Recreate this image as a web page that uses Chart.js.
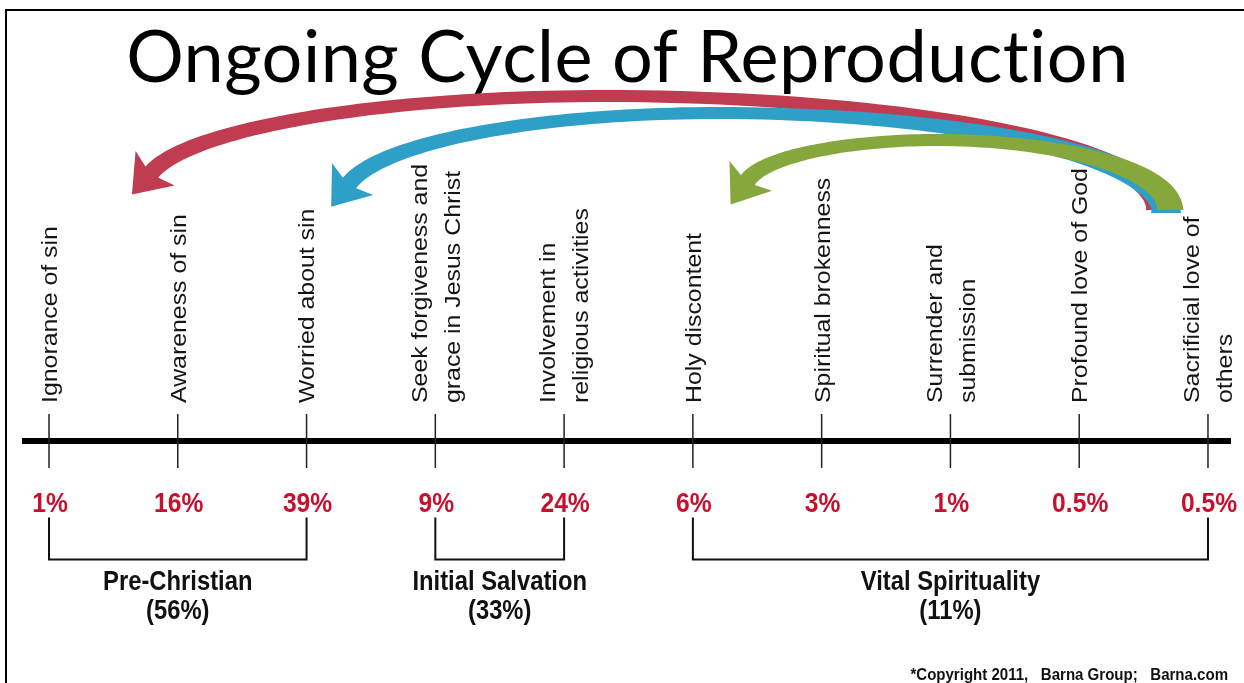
<!DOCTYPE html>
<html>
<head>
<meta charset="utf-8">
<script src="https://cdn.jsdelivr.net/npm/chart.js@4.4.1/dist/chart.umd.min.js"></script>
<style>
  html, body { margin: 0; padding: 0; background: #fff; }
  #wrap { width: 1244px; height: 683px; }
</style>
</head>
<body>
<div id="wrap"><canvas id="cycle-chart"></canvas></div>
<script>
// stages along the line, left to right (each entry = lines of the rotated label)
const stages = [
    ['Ignorance of sin'],
    ['Awareness of sin'],
    ['Worried about sin'],
    ['Seek forgiveness and', 'grace in Jesus Christ'],
    ['Involvement in', 'religious activities'],
    ['Holy discontent'],
    ['Spiritual brokenness'],
    ['Surrender and', 'submission'],
    ['Profound love of God'],
    ['Sacrificial love of', 'others']
];
const shares = ['1%', '16%', '39%', '9%', '24%', '6%', '3%', '1%', '0.5%', '0.5%'];

// groups of stages
const groupNames = ['Pre-Christian', 'Initial Salvation', 'Vital Spirituality'];
const groupShares = ['(56%)', '(33%)', '(11%)'];
const groupFirst = [0, 3, 5];
const groupLast = [2, 4, 9];

// the cycle arrows: from the last stage back to earlier stages
const cycleFrom = 9;
const cycleTo = [1, 2, 5];

const titleText = 'Ongoing Cycle of Reproduction';
const copyrightText = '*Copyright 2011,   Barna Group;   Barna.com';


// layout / style (pixels)
const LABEL_BASE = 38;      // gap between axis line and start of rotated labels
const LABEL_FONT = 22;
const LABEL_STRETCH = 1.13;
const LABEL_LINE = 33;
const BRACKET_TOP = -0.38;
const BRACKET_BOTTOM = -0.59;
const arrowColors = ['#c03c51', '#2e9fc7', '#86a73c'];
const arrowLayout = [
    {tailDx: -50, tailY: 210, peakY: 96, baseDx: -26, baseY: 172, wTail: 24},
    {tailDx: -42, tailY: 213, peakY: 113, baseDx: 43, baseY: 183, wTail: 30},
    {tailDx: -38, tailY: 210, peakY: 140, baseDx: 55, baseY: 180, wTail: 27}
];


// tapered curved arrow: quarter ellipse up from the tail, then down to the head
function drawArrow(ctx, a, color) {
    const thEnd = 170 * Math.PI / 180;
    const rxR = a.tail.x - a.peak.x, ryR = a.tail.y - a.peak.y;
    const rxL = (a.peak.x - a.base.x) / -Math.cos(thEnd);
    const cyL = (a.base.y - Math.sin(thEnd) * a.peak.y) / (1 - Math.sin(thEnd));
    const ryL = cyL - a.peak.y;
    const N = 90;
    const left = [], right = [];
    let last = null;
    for (let i = 0; i <= N; i++) {
        const s = i / N;
        let x, y, tx, ty;
        if (s <= 0.5) {
            const th = (s / 0.5) * Math.PI / 2;
            x = a.peak.x + rxR * Math.cos(th);
            y = a.tail.y - ryR * Math.sin(th);
            tx = -rxR * Math.sin(th); ty = -ryR * Math.cos(th);
        } else {
            const th = Math.PI / 2 + ((s - 0.5) / 0.5) * (thEnd - Math.PI / 2);
            x = a.peak.x + rxL * Math.cos(th);
            y = cyL - ryL * Math.sin(th);
            tx = -rxL * Math.sin(th); ty = -ryL * Math.cos(th);
        }
        const len = Math.hypot(tx, ty);
        tx /= len; ty /= len;
        const w = s < 0.5
            ? a.wPeak + (a.wTail - a.wPeak) * Math.pow(1 - 2 * s, 2)
            : a.wPeak + (a.wHead - a.wPeak) * Math.pow(2 * s - 1, 2);
        const nx = -ty, ny = tx;
        left.push([x + nx * w / 2, y + ny * w / 2]);
        right.push([x - nx * w / 2, y - ny * w / 2]);
        last = {x, y, tx, ty, nx, ny};
    }
    ctx.beginPath();
    ctx.moveTo(left[0][0], left[0][1]);
    left.forEach(p => ctx.lineTo(p[0], p[1]));
    const hw = 26, hl = 30;
    ctx.lineTo(last.x + last.nx * hw - last.tx * 5, last.y + last.ny * hw - last.ty * 5);
    ctx.lineTo(last.x + last.tx * hl, last.y + last.ty * hl);
    ctx.lineTo(last.x - last.nx * hw - last.tx * 5, last.y - last.ny * hw - last.ty * 5);
    for (let i = right.length - 1; i >= 0; i--) {
        ctx.lineTo(right[i][0], right[i][1]);
    }
    ctx.closePath();
    ctx.fillStyle = color;
    ctx.fill();
}

// draw text squeezed horizontally (stand-in for a narrow font)
function narrowText(ctx, text, x, y, squeeze) {
    ctx.save();
    ctx.translate(x, y);
    ctx.scale(squeeze, 1);
    ctx.fillText(text, 0, 0);
    ctx.restore();
}


const cycleDecor = {
    id: 'cycleDecor',
    beforeDraw(chart) {
        const ctx = chart.ctx;
        ctx.save();
        ctx.fillStyle = '#fff';
        ctx.fillRect(0, 0, chart.width, chart.height);
        ctx.strokeStyle = '#000';
        ctx.lineWidth = 2;
        ctx.beginPath();
        ctx.moveTo(6, chart.height);
        ctx.lineTo(6, 10);
        ctx.lineTo(chart.width, 10);
        ctx.stroke();
        ctx.restore();
        // a little spacing for the title (also keeps "ti" from joining)
        ctx.letterSpacing = '0.5px';
    },
    afterDraw(chart) {
        const ctx = chart.ctx;
        ctx.letterSpacing = '0px';
        const xs = chart.scales.x;
        const axisY = chart.scales.y.getPixelForValue(0);
        ctx.save();

        // rotated stage names
        ctx.fillStyle = '#151515';
        ctx.font = LABEL_FONT + 'px "Liberation Sans", Arial, sans-serif';
        ctx.textAlign = 'left';
        ctx.textBaseline = 'alphabetic';
        const capH = 0.716 * LABEL_FONT;
        stages.forEach((lines, i) => {
            const px = xs.getPixelForValue(i);
            lines.forEach((line, k) => {
                const off = (k - (lines.length - 1) / 2) * LABEL_LINE;
                ctx.save();
                ctx.translate(px, axisY - LABEL_BASE);
                ctx.rotate(-Math.PI / 2);
                ctx.scale(LABEL_STRETCH, 1);
                ctx.fillText(line, 0, off + capH / 2);
                ctx.restore();
            });
        });

        // shares under each stage
        ctx.textAlign = 'center';
        ctx.fillStyle = '#c8102e';
        ctx.font = 'bold 28px "Liberation Sans", Arial, sans-serif';
        shares.forEach((s, i) => {
            narrowText(ctx, s, xs.getPixelForValue(i) + 1, axisY + 71, 0.88);
        });

        // group names under the brackets
        ctx.fillStyle = '#111';
        groupNames.forEach((name, g) => {
            const cx = (xs.getPixelForValue(groupFirst[g]) + xs.getPixelForValue(groupLast[g])) / 2;
            narrowText(ctx, name, cx, axisY + 149, 0.85);
            narrowText(ctx, groupShares[g], cx, axisY + 178, 0.85);
        });

        // copyright
        ctx.textAlign = 'right';
        ctx.font = 'bold 16px "Liberation Sans", Arial, sans-serif';
        narrowText(ctx, copyrightText, 1228, 680, 0.94);

        // cycle arrows
        const tailX = xs.getPixelForValue(cycleFrom);
        cycleTo.forEach((to, k) => {
            const L = arrowLayout[k];
            const tail = {x: tailX + L.tailDx, y: L.tailY};
            const base = {x: xs.getPixelForValue(to) + L.baseDx, y: L.baseY};
            const peak = {x: base.x + 0.45 * (tail.x - base.x), y: L.peakY};
            drawArrow(ctx, {tail, base, peak, wTail: L.wTail, wPeak: 12, wHead: 17}, arrowColors[k]);
        });

        ctx.restore();
    }
};


const bracketSets = groupNames.map((name, g) => ({
    label: name,
    data: [
        {x: groupFirst[g], y: BRACKET_TOP},
        {x: groupFirst[g], y: BRACKET_BOTTOM},
        {x: groupLast[g], y: BRACKET_BOTTOM},
        {x: groupLast[g], y: BRACKET_TOP}
    ],
    showLine: true,
    borderColor: '#111',
    borderWidth: 2,
    pointRadius: 0,
    tension: 0
}));

const chart = new Chart(document.getElementById('cycle-chart'), {
    type: 'scatter',
    data: {
        datasets: [{
            label: 'stages',
            data: stages.map((s, i) => ({x: i, y: 0})),
            pointStyle: 'line',
            rotation: 90,
            radius: 27,
            borderColor: '#222',
            borderWidth: 1.5
        }].concat(bracketSets)
    },
    options: {
        responsive: true,
        maintainAspectRatio: false,
        animation: false,
        layout: {autoPadding: false, padding: {left: 25, right: 14, top: 0, bottom: 41}},
        plugins: {
            legend: {display: false},
            tooltip: {enabled: false},
            title: {
                display: true,
                text: titleText,
                color: '#000',
                font: {family: 'Lato, "Liberation Sans", sans-serif', size: 72, weight: 'normal', lineHeight: 1.2},
                padding: {top: 16, bottom: 137.6}
            }
        },
        scales: {
            x: {
                type: 'linear',
                min: -0.1864,
                max: 9.171,
                position: {y: 0},
                border: {display: true, width: 6, color: '#000'},
                grid: {display: false, drawTicks: false},
                ticks: {display: false}
            },
            y: {
                type: 'linear',
                display: false,
                min: -1,
                max: 1
            }
        }
    },
    plugins: [cycleDecor]
});
</script>
</body>
</html>
